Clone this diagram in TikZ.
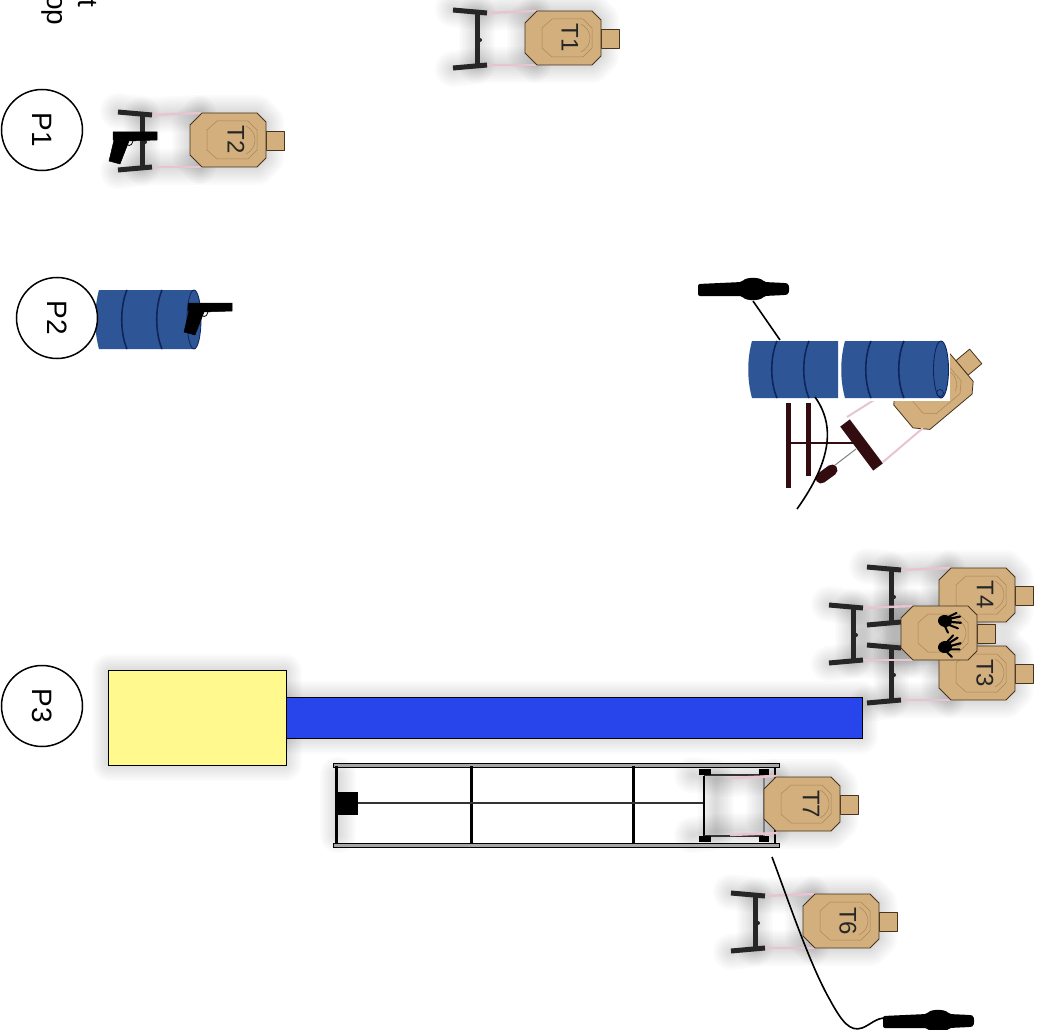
\documentclass[tikz,border=0pt]{standalone}
\usepackage{fontspec}
\setmainfont{Liberation Sans}
\definecolor{tan1}{RGB}{211,175,125}
\definecolor{tanline}{RGB}{70,52,30}
\definecolor{innerline}{RGB}{170,135,90}
\definecolor{pinkstick}{RGB}{232,196,210}
\definecolor{standc}{RGB}{38,38,38}
\definecolor{maroon1}{RGB}{50,12,14}
\definecolor{drum}{RGB}{46,86,150}
\definecolor{drumline}{RGB}{16,36,90}
\definecolor{yellow1}{RGB}{255,249,142}
\definecolor{blue1}{RGB}{40,68,235}
\tikzset{
  softedge/.style={line join=round,line cap=round,black,opacity=.016},
  tgtbody/.style={fill=tan1,draw=tanline,line width=.8pt,line join=round},
  tgtinner/.style={draw=innerline,line width=.5pt},
  stick/.style={pinkstick,line width=2.4pt},
  standbar/.style={standc,line width=5pt},
  tlabel/.style={rotate=-90,font=\fontsize{24}{24}\selectfont,text=black!85,inner sep=0pt,transform shape},
  plabel/.style={circle,draw=black,line width=1.5pt,fill=white,minimum size=81pt,inner sep=0pt,rotate=-90,font=\fontsize{28}{28}\selectfont},
  gunshape/.style={fill=black,draw=black,line width=.5pt,line join=round},
  wire/.style={draw=black,line width=1.6pt},
  rib/.style={draw=drumline,line width=1.6pt},
}
% blurred halo along a path
\newcommand\softpath[1]{\foreach \w in {4,8,...,36}{\draw[softedge,line width=\w pt] #1;}}
\newcommand\bodyoutline{(-26,-27) -- (29,-27) -- (38,-18) -- (38,18) -- (29,27) -- (-26,27) -- (-38,15) -- (-38,-15) -- cycle}
\newcommand\tgtshadow[3]{\begin{scope}[shift={(#1,#2)},rotate=#3]
  \softpath{\bodyoutline}
  \softpath{(-110,-29) -- (-76,-25) -- (-30,-27)}
  \softpath{(-110,31) -- (-76,27) -- (-30,27)}
  \softpath{(-86,-25) -- (-86,27)}
\end{scope}}
\newcommand\tgtstand[3]{\begin{scope}[shift={(#1,#2)},rotate=#3]
  \draw[stick] (-77,-25) -- (-26,-27);
  \draw[stick] (-77,27) -- (-26,27);
  \draw[standbar] (-86,-26) -- (-86,28);
  \draw[standbar] (-110,-28) -- (-76,-25);
  \draw[standbar] (-110,30) -- (-76,27);
  \fill[standc] (-83,2) circle (2pt);
\end{scope}}
\newcommand\tgtpaper[3]{\begin{scope}[shift={(#1,#2)},rotate=#3]
  \draw[tgtbody] (38,-9) -- (56,-9) -- (56,10) -- (38,10) -- cycle;
  \draw[tgtbody] \bodyoutline;
  \draw[tgtinner] (-11,-19) -- (-21,-10) -- (-21,10) -- (-11,19) -- (20,19) -- (29,10) -- (29,-10) -- (20,-19) -- cycle;
  \draw[tgtinner] (18,-14) .. controls (30,-8) and (30,8) .. (18,14);
\end{scope}}
\newcommand\popper[2]{\begin{scope}[shift={(#1,#2)}]
  \fill[black,rounded corners=2pt] (-60,-5) -- (-16,-7) .. controls (-12,-12) and (2,-12) .. (6,-7) -- (27,-6)
     .. controls (32,-5) and (32,5) .. (27,6) -- (6,7) .. controls (2,12) and (-12,12) .. (-16,7) -- (-60,7) -- cycle;
\end{scope}}
\newcommand\drumunit[4]{% x1 x2 y1 y2
  \fill[drum] (#1+5,#3) -- (#2,#3) -- (#2,#4) -- (#1+5,#4) .. controls (#1,#4-18) and (#1,#3+18) .. (#1+5,#3) -- cycle;
}
\newcommand\drumrib[3]{\draw[rib] (#1+4,#2) .. controls (#1-3,#2+16) and (#1-3,#3-16) .. (#1+4,#3);}
\newcommand\gun[3]{\begin{scope}[shift={(#1,#2)},scale=#3]
  \draw[gunshape] (0,0) -- (44,0) -- (44,8) -- (16,9) -- (0,8) -- cycle;
  \draw[gunshape] (1,8) -- (-4,29) -- (7,32) -- (16,9) -- cycle;
  \draw[black,line width=.8pt] (13,9) .. controls (13,15) and (19,15) .. (20,9);
\end{scope}}
\newcommand\hand[3]{\begin{scope}[shift={(#1,#2)},rotate=#3]
  \fill[black] (0,0) ellipse (7pt and 6pt);
  \draw[black,line width=2pt,line cap=round] (2,-4) -- (10,-10);
  \draw[black,line width=2.2pt,line cap=round] (4,-3) -- (14,-7);
  \draw[black,line width=2.2pt,line cap=round] (5,0) -- (16,-1);
  \draw[black,line width=2pt,line cap=round] (4,3) -- (14,5);
  \draw[black,line width=2pt,line cap=round] (0,4) -- (5,11);
\end{scope}}
\begin{document}
\begin{tikzpicture}[x=1pt,y=-1pt]
\useasboundingbox (0,0) rectangle (1037,1030);
\fill[white] (0,0) rectangle (1037,1030);

% cut-off text at the top edge
\node[rotate=-90,anchor=west,inner sep=0pt,font=\fontsize{28}{28}\selectfont] (tcut) at (87,-1) {t};
\node[rotate=-90,anchor=west,inner sep=0pt,font=\fontsize{28}{28}\selectfont] (opcut) at (52,-6) {op};

% halos
\tgtshadow{563}{38}{0}
\tgtshadow{228}{140}{0}
\tgtshadow{977}{595}{0}
\tgtshadow{977}{673}{0}
\tgtshadow{939}{633}{0}
\tgtshadow{802}{804}{0}
\tgtshadow{841}{921}{0}
\softpath{(110,672) rectangle (284,763)}
\softpath{(286,699) rectangle (860,736)}
\softpath{(338,775) -- (338,835)}

% T1, T2
\tgtstand{563}{38}{0}\tgtpaper{563}{38}{0}
\node[tlabel] (t1) at (570,38) {T1};
\tgtstand{228}{140}{0}\tgtpaper{228}{140}{0}
\node[tlabel] (t2) at (236,140) {T2};
\gun{113}{132}{1}

% drum at P2
\drumunit{94}{194}{290}{349}
\drumrib{123}{290}{349}
\drumrib{158}{290}{349}
\fill[drum] (194,319.5) ellipse (7pt and 29.5pt);
\draw[drumline,line width=.8pt] (194,319.5) ellipse (7pt and 29.5pt);
\gun{188}{303}{1}

% tilted target behind the drums
\tgtpaper{932.5}{392}{40}
\draw[pinkstick,line width=2pt] (847,417) -- (874,400);
\draw[pinkstick,line width=2pt] (883,462) -- (923,428);
\fill[white] (744,338) rectangle (950,400.5);
\draw[maroon1,line width=2.5pt] (790,443) -- (853,443);
\draw[maroon1,line width=5pt] (788,403) -- (788,488);
\draw[maroon1,line width=5pt] (808,403) -- (808,476);
\draw[maroon1,line width=12pt] (845,423) -- (878,467);
\draw[gray,line width=1pt] (856,449) -- (826,472);
\draw[maroon1,line width=11pt,line cap=round] (821,478) -- (832,470);

% tilted group drums
\drumunit{747}{838}{341}{398}
\drumunit{840}{941}{341}{398}
\fill[drum] (941,369.5) ellipse (7.5pt and 28.5pt);
\drumrib{773}{341}{398}
\drumrib{805}{341}{398}
\drumrib{867}{341}{398}
\drumrib{900}{341}{398}
\draw[drumline,line width=.9pt] (941,369.5) ellipse (7.5pt and 28.5pt);
\draw[drumline,line width=.7pt] (940,393) circle (3.5pt);

% popper 1 and its wires
\coordinate (pop1) at (753,301);
\coordinate (pop1b) at (780,340);
\popper{758}{289}
\draw[wire] (pop1) -- (pop1b);
\coordinate (w2a) at (815,397);
\coordinate (w2b) at (797,509);
\draw[wire] (w2a) .. controls (835,425) and (832,460) .. (w2b);

% T4, T3, front target
\tgtstand{977}{595}{0}\tgtpaper{977}{595}{0}
\node[tlabel] (t4) at (985,595) {T4};
\tgtstand{977}{673}{0}\tgtpaper{977}{673}{0}
\node[tlabel] (t3) at (985,673) {T3};
\tgtstand{939}{633}{0}\tgtpaper{939}{633}{0}
\hand{945}{621}{-10}
\hand{945}{647}{10}

% yellow box and blue bar
\fill[yellow1,draw=black,line width=.9pt] (108,670) rectangle (286,765);
\fill[blue1,draw=black,line width=.9pt] (286,697) rectangle (862,738);

% mover frame and T7
\draw[fill=gray!70,draw=black,line width=.8pt] (333,763) rectangle (779,767);
\draw[fill=gray!70,draw=black,line width=.8pt] (333,843) rectangle (779,847);
\draw[black,line width=3pt] (336,766) -- (336,844);
\draw[black,line width=3pt] (471,766) -- (471,844);
\draw[black,line width=3pt] (633,766) -- (633,844);
\draw[black!80,line width=1.4pt] (340,803) -- (704,803);
\fill[black] (336,792) rectangle (358,815);
\draw[black,line width=1.2pt] (704,776) -- (704,837);
\draw[black!80,line width=1.2pt] (704,775) -- (765,775);
\draw[black!80,line width=1.2pt] (704,836) -- (765,836);
\fill[black] (699,769) rectangle (711,775);
\fill[black] (699,836) rectangle (711,842);
\fill[black] (759,769) rectangle (769,775);
\fill[black] (759,836) rectangle (769,842);
\draw[gray,line width=2.5pt] (764,775) -- (764,836);
\draw[black,line width=1.6pt] (775,767) -- (775,843);
\draw[pinkstick,line width=2.5pt] (730,778) -- (778,776);
\draw[pinkstick,line width=2.5pt] (730,835) -- (778,833);
\tgtpaper{802}{804}{0}
\node[tlabel] (t7) at (811,804) {T7};

% T6
\tgtstand{841}{921}{0}\tgtpaper{841}{921}{0}
\node[tlabel] (t6) at (848,921) {T6};
\coordinate (w3a) at (772,857);
\coordinate (w3b) at (885,1018);
\draw[wire] (w3a) .. controls (790,905) and (810,965) .. (830,1000) .. controls (842,1022) and (850,1032) .. (862,1028) .. controls (870,1025) and (876,1018) .. (w3b);
\popper{943}{1021}

% positions
\node[plabel] (p1) at (42,130) {P1};
\node[plabel] (p2) at (57,318) {P2};
\node[plabel] (p3) at (42,706) {P3};
\end{tikzpicture}
\end{document}
